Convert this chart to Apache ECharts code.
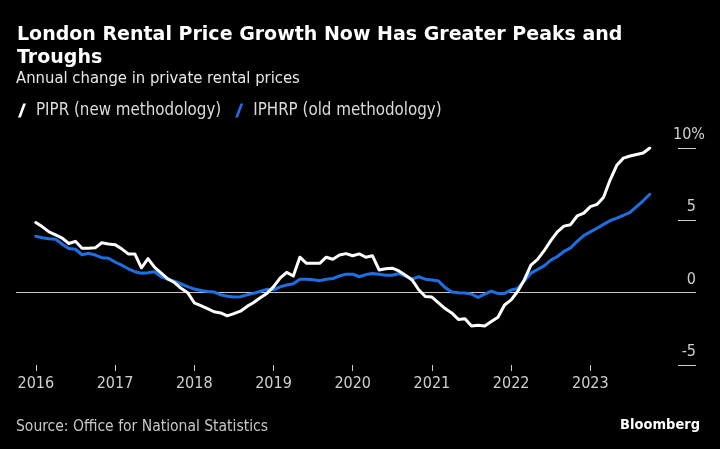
<!DOCTYPE html>
<html><head><meta charset="utf-8">
<script src="https://cdn.jsdelivr.net/npm/echarts@6/dist/echarts.min.js"></script>
<style>html,body{margin:0;padding:0;background:#000;}#c{width:720px;height:449px;}</style>
</head><body><div id="c"></div>
<script>
// Monthly observations, Jan 2016 – Oct 2023 (index 0 = Jan 2016)
const startYear = 2016;
const yearTicks = [0, 12, 24, 36, 48, 60, 72, 84];
const yearLabels = ['2016', '2017', '2018', '2019', '2020', '2021', '2022', '2023'];
const pipr = [
  4.85, 4.55, 4.2, 4.0, 3.77, 3.4, 3.55, 3.07, 3.07, 3.1, 3.45, 3.37,
  3.32, 3.03, 2.68, 2.68, 1.72, 2.35, 1.75, 1.35, 0.95, 0.7, 0.3, 0.0,
  -0.7, -0.9, -1.1, -1.32, -1.4, -1.6, -1.45, -1.28, -0.95, -0.68, -0.35, -0.05,
  0.4, 1.0, 1.4, 1.15, 2.45, 2.03, 2.03, 2.03, 2.45, 2.31, 2.61, 2.7,
  2.55, 2.68, 2.45, 2.55, 1.57, 1.65, 1.69, 1.5, 1.2, 0.88, 0.2, -0.27,
  -0.3, -0.7, -1.1, -1.4, -1.85, -1.8, -2.3, -2.25, -2.3, -2.0, -1.7, -0.85,
  -0.5, 0.1, 0.9, 1.9, 2.3, 2.9, 3.6, 4.2, 4.6, 4.7, 5.3, 5.5,
  5.95, 6.1, 6.6, 7.8, 8.8, 9.3, 9.45, 9.55, 9.65, 10.0
];
const iphrp = [
  3.9, 3.8, 3.72, 3.7, 3.35, 3.05, 3.0, 2.62, 2.72, 2.6, 2.42, 2.38,
  2.12, 1.9, 1.65, 1.45, 1.34, 1.38, 1.45, 1.1, 0.92, 0.8, 0.6, 0.42,
  0.25, 0.15, 0.08, 0.05, -0.15, -0.25, -0.3, -0.28, -0.15, -0.05, 0.1, 0.23,
  0.2, 0.4, 0.53, 0.62, 0.93, 0.93, 0.9, 0.83, 0.93, 0.98, 1.15, 1.28,
  1.28, 1.1, 1.25, 1.32, 1.27, 1.2, 1.2, 1.32, 1.15, 0.93, 1.1, 0.93,
  0.88, 0.8, 0.35, 0.05, 0.0, -0.02, -0.1, -0.32, -0.1, 0.1, -0.05, -0.05,
  0.18, 0.3, 0.8, 1.35, 1.6, 1.85, 2.25, 2.5, 2.85, 3.1, 3.55, 3.95,
  4.2, 4.45, 4.72, 4.98, 5.15, 5.35, 5.55, 5.95, 6.35, 6.8
];
const seriesNames = ['PIPR (new methodology)', 'IPHRP (old methodology)'];
const yTicks = [-5, 0, 5, 10];

const pairs = arr => arr.map((v, i) => [i, v]);
const narrow = '"Liberation Sans Narrow", "DejaVu Sans Condensed", "DejaVu Sans", sans-serif';
const bold = '"DejaVu Sans", sans-serif';

const chart = echarts.init(document.getElementById('c'), null, { renderer: 'canvas' });
chart.setOption({
  backgroundColor: '#000000',
  animation: false,
  title: [
    {
      text: 'London Rental Price Growth Now Has Greater Peaks and\nTroughs',
      left: 12, top: 19,
      textStyle: { color: '#ffffff', fontFamily: bold, fontWeight: 'bold', fontSize: 19, lineHeight: 23 }
    },
    {
      text: 'Annual change in private rental prices',
      left: 11, top: 65,
      textStyle: { color: '#e6e6e6', fontFamily: narrow, fontWeight: 'normal', fontSize: 16.5 }
    },
    {
      text: 'Source: Office for National Statistics',
      left: 11, top: 414,
      textStyle: { color: '#c8c8c8', fontFamily: narrow, fontWeight: 'normal', fontSize: 15.5 }
    },
    {
      text: 'Bloomberg',
      right: 15, top: 413,
      textStyle: { color: '#ffffff', fontFamily: narrow, fontWeight: 'bold', fontSize: 14.5 }
    }
  ],
  legend: {
    left: 13, top: 97,
    itemWidth: 8, itemHeight: 14, itemGap: 14,
    icon: 'path://M0,14 L5.2,0 L8,0 L2.8,14 Z',
    data: seriesNames,
    textStyle: { color: '#dcdcdc', fontFamily: narrow, fontSize: 16.8, padding: [0, 0, 0, 5] },
    selectedMode: false
  },
  grid: { left: 16, right: 24, top: 148, bottom: 84, containLabel: false },
  xAxis: {
    type: 'value', min: -3, max: 100,
    axisLine: { show: false, onZero: false },
    splitLine: { show: false },
    axisTick: { show: true, length: 6, customValues: yearTicks, lineStyle: { color: '#cfcfcf', width: 1 } },
    axisLabel: {
      customValues: yearTicks,
      formatter: v => yearLabels[yearTicks.indexOf(v)] || '',
      color: '#d0d0d0', fontFamily: narrow, fontSize: 16, margin: 11
    }
  },
  yAxis: {
    type: 'value', position: 'right', min: -5, max: 10, interval: 5,
    axisLine: { show: false, onZero: false },
    splitLine: { show: false },
    axisTick: { show: true, inside: true, length: 18, lineStyle: { color: '#cfcfcf', width: 1 } },
    axisLabel: {
      inside: true, margin: -9, verticalAlign: 'bottom', padding: [0, 0, 5, 0],
      formatter: v => v === 10 ? '10%' : v + '{s| }',
      rich: { s: { width: 9 } },
      color: '#d0d0d0', fontFamily: narrow, fontSize: 16
    }
  },
  series: [
    {
      name: 'zero', type: 'line', data: [], silent: true,
      markLine: {
        silent: true, symbol: 'none', z: 1,
        label: { show: false },
        lineStyle: { color: '#c8c8c8', width: 1.2, type: 'solid' },
        data: [{ yAxis: 0 }]
      }
    },
    {
      name: seriesNames[0], type: 'line', data: pairs(pipr), showSymbol: false, z: 4,
      color: '#ffffff', lineStyle: { color: '#ffffff', width: 3, cap: 'round', join: 'round' }
    },
    {
      name: seriesNames[1], type: 'line', data: pairs(iphrp), showSymbol: false, z: 3,
      color: '#1e6fe3', lineStyle: { color: '#1e6fe3', width: 3, cap: 'round', join: 'round' }
    }
  ]
});
</script>
</body></html>
